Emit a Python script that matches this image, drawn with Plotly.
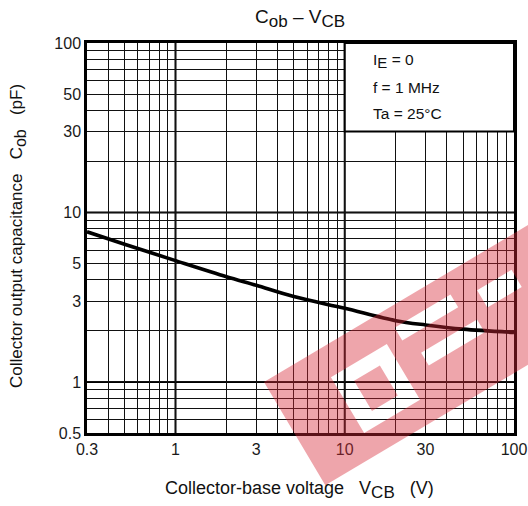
import numpy as np
import plotly.graph_objects as go

# curve
vcb = [0.3, 0.5, 1, 2, 3, 5, 10, 20, 30, 50, 100]
cob = [7.7, 6.5, 5.2, 4.18, 3.72, 3.19, 2.72, 2.3, 2.17, 2.05, 1.96]

# grid lines and labels
x_grid = [0.3, 0.4, 0.5, 0.6, 0.7, 0.8, 0.9, 1, 2, 3, 4, 5, 6, 7, 8, 9,
          10, 20, 30, 40, 50, 60, 70, 80, 90, 100]
x_labels = [0.3, 1, 3, 10, 30, 100]
y_grid = [0.5, 0.6, 0.7, 0.8, 0.9, 1, 2, 3, 4, 5, 6, 7, 8, 9,
          10, 20, 30, 40, 50, 60, 70, 80, 90, 100]
y_labels = [0.5, 1, 3, 5, 10, 30, 50, 100]

conditions = ["I<sub>E</sub> = 0", "f = 1 MHz", "Ta = 25°C"]

X_MIN, X_MAX = 0.3, 100
Y_MIN, Y_MAX = 0.5, 100
FONT = "Liberation Sans, Arial, sans-serif"
NB = "\u00a0"


def xp(v):
    return (np.log10(v) - np.log10(X_MIN)) / (np.log10(X_MAX) - np.log10(X_MIN))


def yp(v):
    return (np.log10(v) - np.log10(Y_MIN)) / (np.log10(Y_MAX) - np.log10(Y_MIN))


def sub(s, size):
    # near full-size subscript like the datasheet lettering
    return f"<sub><span style='font-size:{size}px'>{s}</span></sub>"


fig = go.Figure()
fig.add_trace(go.Scatter(
    x=vcb, y=cob, mode="lines",
    line=dict(color="black", width=3.6, shape="spline", smoothing=0.9),
    hoverinfo="skip", showlegend=False,
))

axis_style = dict(
    type="log", showgrid=True, gridcolor="#111", gridwidth=1,
    showline=True, linecolor="black", linewidth=2.5, mirror=True,
    ticks="", tickfont=dict(size=16, color="#1a1a1a", family=FONT),
    zeroline=False, fixedrange=True, automargin=False,
)
fig.update_xaxes(
    range=[np.log10(X_MIN), np.log10(X_MAX)],
    tickvals=x_labels, ticktext=[f"{v:g}" for v in x_labels],
    minor=dict(tickvals=x_grid, showgrid=True, gridcolor="#111", gridwidth=1, ticks=""),
    **axis_style,
)
fig.update_yaxes(
    range=[np.log10(Y_MIN), np.log10(Y_MAX)],
    tickvals=y_labels, ticktext=[f"{v:g}" for v in y_labels],
    minor=dict(tickvals=y_grid, showgrid=True, gridcolor="#111", gridwidth=1, ticks=""),
    **axis_style,
)

shapes = []
# heavier decade lines
for v in [1, 10]:
    shapes.append(dict(type="line", xref="paper", yref="paper", x0=xp(v), x1=xp(v),
                       y0=0, y1=1, line=dict(color="black", width=2), layer="below"))
    shapes.append(dict(type="line", xref="paper", yref="paper", x0=0, x1=1,
                       y0=yp(v), y1=yp(v), line=dict(color="black", width=2), layer="below"))
# conditions box in the upper right
shapes.append(dict(type="rect", xref="paper", yref="paper", x0=xp(10), x1=1,
                   y0=yp(30), y1=1, fillcolor="white",
                   line=dict(color="black", width=2), layer="above"))


# watermark, drawn in pixel space of the 528x506 page
def to_paper(px, py):
    return (px - 87) / 427, (433 - py) / 390


def rot(u, v):
    ox, oy = 264, 382
    return ox + u * 0.86 + v * 0.511, oy - u * 0.511 + v * 0.86


def poly(pts):
    out = []
    for i, (u, v) in enumerate(pts):
        x, y = to_paper(*rot(u, v))
        out.append(("M" if i == 0 else "L") + f"{x:.4f},{y:.4f}")
    return " ".join(out) + " Z"


outer = [(0, 0), (340, 0), (340, 120), (0, 120)]
holes = [
    [(60, 30), (60, 95), (125, 95), (125, 30)],
    [(140, 20), (140, 35), (205, 35), (205, 20)],
    [(150, 55), (150, 70), (215, 70), (215, 55)],
    [(230, 30), (230, 50), (270, 50), (270, 30)],
]
inner = [(78, 45), (108, 45), (108, 80), (78, 80)]
path = poly(outer) + " " + " ".join(poly(h) for h in holes) + " " + poly(inner)
shapes.append(dict(type="path", xref="paper", yref="paper", path=path,
                   fillcolor="rgba(214,40,55,0.42)", line=dict(width=0), layer="above"))

annotations = [
    dict(text="C" + sub("ob", 17) + f"{NB}–{NB}V" + sub("CB", 17), xref="paper", yref="paper",
         x=(300 - 87) / 427, y=(433 - 18) / 390, showarrow=False, xanchor="center", yanchor="middle",
         font=dict(size=19, color="#111", family=FONT)),
    dict(text=f"Collector-base voltage{NB*3}V" + sub("CB", 17) + f"{NB*3}(V)",
         xref="paper", yref="paper",
         x=(299 - 87) / 427, y=(433 - 490) / 390, showarrow=False,
         xanchor="center", yanchor="middle", font=dict(size=18, color="#111", family=FONT)),
    dict(text=f"Collector output capacitance{NB*3}C" + sub("ob", 16) + f"{NB*3}(pF)",
         xref="paper", yref="paper",
         x=(18 - 87) / 427, y=(433 - 236) / 390, showarrow=False, textangle=-90,
         xanchor="center", yanchor="middle", font=dict(size=17, color="#111", family=FONT)),
]
for i, t in enumerate(conditions):
    t = t.replace("<sub>E</sub>", sub("E", 15))
    annotations.append(dict(text=t, xref="paper", yref="paper",
                            x=(371 - 87) / 427, y=(433 - (61 + 26 * i)) / 390,
                            showarrow=False, xanchor="left", yanchor="middle",
                            font=dict(size=15.5, color="#111", family=FONT)))

fig.update_layout(
    width=528, height=506,
    margin=dict(l=87, r=14, t=43, b=73),
    paper_bgcolor="white", plot_bgcolor="white",
    shapes=shapes, annotations=annotations,
    font=dict(family=FONT),
)

# drop the browser's default body margin so the chart sits at the page corner
fig.write_html("out.html", config={"displayModeBar": False},
               post_script="document.body.style.margin='0';")
